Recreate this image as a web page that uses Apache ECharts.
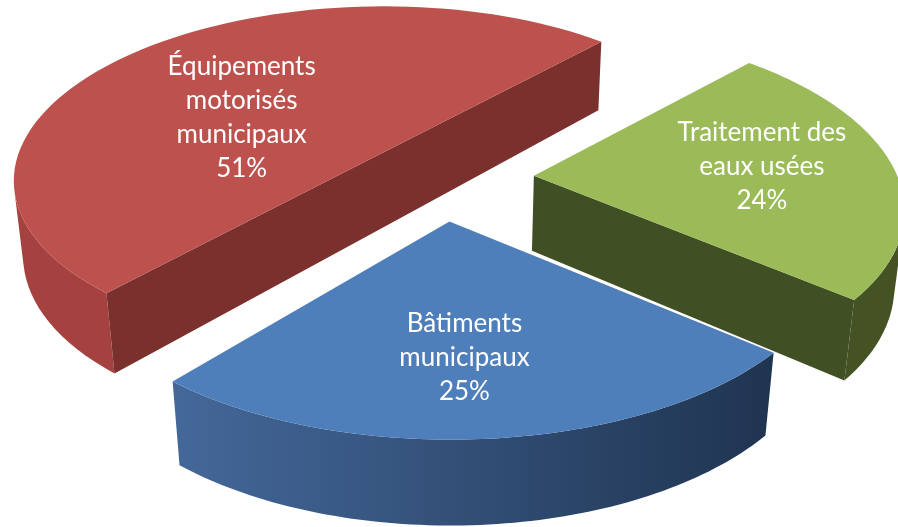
<!DOCTYPE html>
<html>
<head>
<meta charset="utf-8">
<script src="https://cdn.jsdelivr.net/npm/echarts@6/dist/echarts.min.js"></script>
<style>html,body{margin:0;background:#fff}#chart{width:898px;height:527px}</style>
</head>
<body>
<div id="chart"></div>
<script>
var categories = ['Équipements\nmotorisés\nmunicipaux', 'Traitement des\neaux usées', 'Bâtiments\nmunicipaux'];
var values = [51, 24, 25];
var topColors = ['#bd514e', '#9bbb59', '#4f7fba'];
var faceColors = ['#7a302d', '#414f24', '#1f3450'];
var wallColors = [['#a5423f', '#a5423f'], ['#445224', '#445224'], ['#44689a', '#1f3450']];
// label centre, pixels from the slice tip
var labelOffsets = [[-141, -35], [228, -9], [15, 136]];

// projection of the tilted pie, fitted by eye
var cx = 444, cy = 180, rx = 376, ry = 175, persp = 0.16;
var depth = 77, depthPersp = 0.022;
var startDeg = 130;
// how far each slice is pulled out, and its size, in pie radius units
var pullX = [-0.19, 0.24, 0.014];
var pullY = [-0.18, -0.025, 0.229];
var sizeX = [0.97, 0.97, 0.97];
var sizeY = [1, 1, 0.97];

function project(X, Y, h) {
    var w = 1 - persp * Y + depthPersp * h;
    return [cx + rx * X / w, cy + (ry * Y + depth * h) / w];
}

var total = values.reduce(function (a, b) { return a + b; }, 0);
var starts = [];
values.reduce(function (acc, v, i) { starts[i] = acc; return acc + v / total * 360; }, startDeg);

function renderSlice(params, api) {
    var i = params.dataIndex;
    var a0 = starts[i] * Math.PI / 180;
    var a1 = a0 + api.value(0) / total * 2 * Math.PI;

    var arc = [];
    var steps = 80;
    for (var s = 0; s <= steps; s++) {
        var t = a0 + (a1 - a0) * s / steps;
        arc.push([pullX[i] + sizeX[i] * Math.cos(t), pullY[i] + sizeY[i] * Math.sin(t)]);
    }
    var tip = [pullX[i], pullY[i]];
    // a slice over a half circle is cut straight along its chord, as in the source
    if (a1 - a0 > Math.PI) {
        tip = [(arc[0][0] + arc[steps][0]) / 2, (arc[0][1] + arc[steps][1]) / 2];
    }
    var loop = [tip].concat(arc);
    var topPts = loop.map(function (p) { return project(p[0], p[1], 0); });
    var botPts = loop.map(function (p) { return project(p[0], p[1], 1); });

    function facing(k, n) {
        var p = topPts[k], q = topPts[n], b = botPts[k];
        return (q[0] - p[0]) * (b[1] - p[1]) - (q[1] - p[1]) * (b[0] - p[0]) < 0;
    }

    var children = [];
    // outer wall, only the part turned to the viewer
    var upper = [], lower = [];
    for (var k = 1; k < topPts.length - 1; k++) {
        if (facing(k, k + 1)) {
            if (!upper.length) { upper.push(topPts[k]); lower.push(botPts[k]); }
            upper.push(topPts[k + 1]);
            lower.push(botPts[k + 1]);
        }
    }
    if (upper.length) {
        children.push({
            type: 'polygon',
            shape: { points: upper.concat(lower.reverse()) },
            style: {
                fill: new echarts.graphic.LinearGradient(0, 0, 1, 0, [
                    { offset: 0, color: wallColors[i][0] },
                    { offset: 1, color: wallColors[i][1] }
                ])
            }
        });
    }
    // the cut faces, as one polygon when both show so there is no seam
    var last = topPts.length - 1;
    var faceTop = [], faceBot = [];
    if (facing(last, 0)) { faceTop.push(topPts[last]); faceBot.push(botPts[last]); }
    if (facing(last, 0) || facing(0, 1)) { faceTop.push(topPts[0]); faceBot.push(botPts[0]); }
    if (facing(0, 1)) { faceTop.push(topPts[1]); faceBot.push(botPts[1]); }
    if (faceTop.length) {
        children.push({
            type: 'polygon',
            shape: { points: faceTop.concat(faceBot.reverse()) },
            style: { fill: faceColors[i] }
        });
    }
    children.push({
        type: 'polygon',
        shape: { points: topPts },
        style: { fill: topColors[i] }
    });
    children.push({
        type: 'text',
        x: topPts[0][0] + labelOffsets[i][0],
        y: topPts[0][1] + labelOffsets[i][1],
        style: {
            text: categories[i] + '\n' + api.value(0) + '%',
            fill: '#fff',
            font: '26px Lato',
            lineHeight: 34,
            align: 'center',
            verticalAlign: 'middle'
        }
    });
    return { type: 'group', children: children };
}

var option = {
    animation: false,
    backgroundColor: '#fff',
    series: [
        {
            type: 'custom',
            coordinateSystem: 'none',
            silent: true,
            renderItem: renderSlice,
            encode: { value: 0 },
            data: values.map(function (v) { return [v]; })
        }
    ]
};
var myChart = echarts.init(document.getElementById('chart'));
myChart.setOption(option);
</script>
</body>
</html>
